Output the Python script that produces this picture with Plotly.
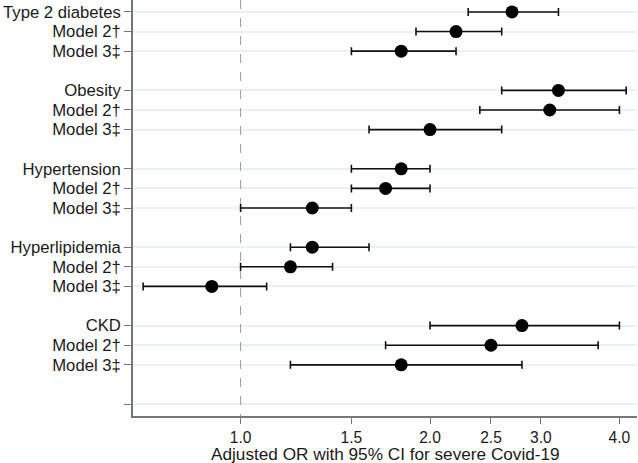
import plotly.graph_objects as go

groups = ["Type 2 diabetes", "Obesity", "Hypertension", "Hyperlipidemia", "CKD"]
models = ["", "Model 2\u2020", "Model 3\u2021"]

# OR, lower CI, upper CI per row (group order, then model order)
or_vals = [2.7, 2.2, 1.8, 3.2, 3.1, 2.0, 1.8, 1.7, 1.3, 1.3, 1.2, 0.9, 2.8, 2.5, 1.8]
ci_low  = [2.3, 1.9, 1.5, 2.6, 2.4, 1.6, 1.5, 1.5, 1.0, 1.2, 1.0, 0.7, 2.0, 1.7, 1.2]
ci_high = [3.2, 2.6, 2.2, 4.1, 4.0, 2.6, 2.0, 2.0, 1.5, 1.6, 1.4, 1.1, 4.0, 3.7, 2.8]

x_ticks = [1.0, 1.5, 2.0, 2.5, 3.0, 4.0]
x_tick_text = ["1.0", "1.5", "2.0", "2.5", "3.0", "4.0"]

# build row positions and labels
ypos, ylabels = [], []
row = 0
for g in groups:
    for m in models:
        ypos.append(row)
        ylabels.append(g if m == "" else m)
        row += 1
    row += 1
tick_pos = ypos + [row]
tick_lab = ylabels + [""]

ymin, ymax = -0.61, row + 0.61

fig = go.Figure()
fig.add_trace(go.Scatter(
    x=[1, 1], y=[ymin, ymax], mode="lines",
    line=dict(color="#9a9a9a", width=1, dash="dash"),
    hoverinfo="skip", showlegend=False))
fig.add_trace(go.Scatter(
    x=or_vals, y=ypos, mode="markers",
    marker=dict(color="black", size=13),
    error_x=dict(type="data", symmetric=False,
                 array=[h - o for h, o in zip(ci_high, or_vals)],
                 arrayminus=[o - l for o, l in zip(or_vals, ci_low)],
                 color="#111111", thickness=1.6, width=4),
    showlegend=False, cliponaxis=False))

fig.update_layout(
    width=638, height=463,
    margin=dict(l=133, r=1, t=0, b=47, autoexpand=False),
    paper_bgcolor="white", plot_bgcolor="white",
    font=dict(family="Liberation Sans, Arial, sans-serif", size=16, color="#1a1a1a"),
    xaxis=dict(type="log", range=[-0.171, 0.630], tickvals=x_ticks, ticktext=x_tick_text,
               showgrid=False, zeroline=False, showline=True, linecolor="#767676", linewidth=1.6,
               ticks="outside", ticklen=6, tickcolor="#767676", tickwidth=1.3,
               tickfont=dict(size=15.6), automargin=False),
    yaxis=dict(range=[ymax, ymin], autorange=False, tickvals=tick_pos, ticktext=tick_lab,
               showgrid=True, gridcolor="#eaf1f3", gridwidth=1.5, zeroline=False,
               showline=True, linecolor="#767676", linewidth=1.6,
               ticks="outside", ticklen=7, tickcolor="#767676", tickwidth=1.3,
               tickfont=dict(size=16.7), automargin=False),
    annotations=[dict(text="Adjusted OR with 95% CI for severe Covid-19",
                      xref="paper", yref="paper", x=0.5, y=0, xanchor="center",
                      yanchor="middle", yshift=-37.5, showarrow=False,
                      font=dict(size=17.2, color="#1a1a1a"))],
)

fig.write_html("out.html", config={"displayModeBar": False},
               post_script="document.body.style.margin='0';document.body.style.padding='0';")
